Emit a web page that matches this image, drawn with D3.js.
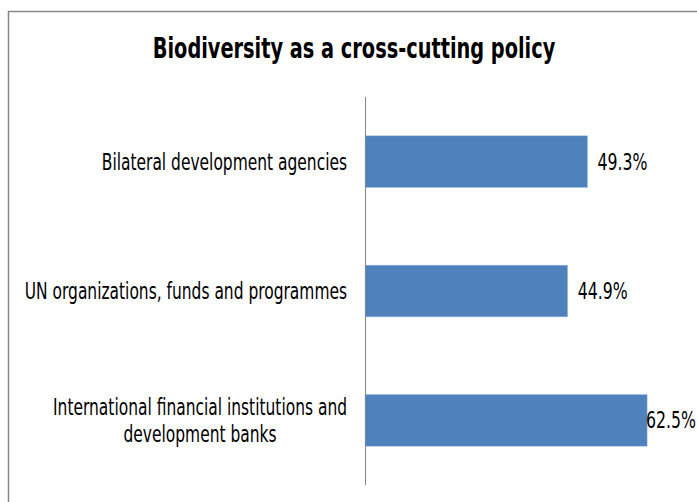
<!DOCTYPE html>
<html>
<head>
<meta charset="utf-8">
<script src="https://cdn.jsdelivr.net/npm/d3@7"></script>
<style>
  body { margin: 0; background: #fff; }
  svg { display: block; }
</style>
</head>
<body>
<svg id="chart"></svg>
<script>
var width = 697, height = 502;

// data
var categories = [
  ["Bilateral development agencies"],
  ["UN organizations, funds and programmes"],
  ["International financial institutions and", "development banks"]
];
var values = [49.3, 44.9, 62.5];
var title = "Biodiversity as a cross-cutting policy";

var font = "'DejaVu Sans Condensed', 'Liberation Sans Narrow', sans-serif";
var stretch = 1.3; // the original text is drawn tall and narrow

var svg = d3.select('#chart')
  .attr('width', width)
  .attr('height', height);

// chart border (runs off the right / bottom edge)
svg.append('rect')
  .attr('x', 8.5).attr('y', 11.5)
  .attr('width', 700).attr('height', 500)
  .attr('fill', 'none')
  .attr('stroke', '#868686')
  .attr('stroke-width', 1.5);

function tallText(sel, px, py) {
  // stretch vertically around the baseline point
  return sel.attr('transform', 'translate(' + px + ',' + py + ') scale(1,' + stretch + ')');
}

tallText(svg.append('text'), 354, 58)
  .attr('text-anchor', 'middle')
  .attr('font-family', font)
  .attr('font-weight', 'bold')
  .attr('font-size', 21.5)
  .attr('fill', '#000')
  .text(title);

var x = d3.scaleLinear().domain([0, 70]).range([365, 681]);
var y = d3.scaleBand()
  .domain(d3.range(values.length))
  .range([97, 485])
  .paddingInner(0.6)
  .paddingOuter(0.3);

svg.selectAll('rect.bar')
  .data(values)
  .enter()
  .append('rect')
  .attr('class', 'bar')
  .attr('x', x(0))
  .attr('y', function(d, i) { return y(i); })
  .attr('width', function(d) { return x(d) - x(0); })
  .attr('height', y.bandwidth())
  .attr('fill', '#4f81bd')
  .attr('stroke', '#a9c4e4')
  .attr('stroke-width', 0.5);

// vertical category axis line
svg.append('line')
  .attr('x1', x(0) + 0.5).attr('x2', x(0) + 0.5)
  .attr('y1', 97).attr('y2', 485)
  .attr('stroke', '#868686')
  .attr('stroke-width', 1);

// category labels, each block right-aligned, lines centred inside it
var labelRight = 347, lineH = 27;
categories.forEach(function(lines, i) {
  var cy = y(i) + y.bandwidth() / 2;
  var texts = lines.map(function(s, j) {
    return svg.append('text')
      .attr('text-anchor', 'middle')
      .attr('font-family', font)
      .attr('font-size', 17.2)
      .attr('fill', '#000')
      .text(s);
  });
  var w = d3.max(texts, function(t) { return t.node().getComputedTextLength(); });
  texts.forEach(function(t, j) {
    tallText(t, labelRight - w / 2, cy + 8 + (j - (lines.length - 1) / 2) * lineH);
  });
});

// value labels (kept inside the right edge)
svg.selectAll('text.val')
  .data(values)
  .enter()
  .append('text')
  .attr('class', 'val')
  .attr('font-family', font)
  .attr('font-size', 17.5)
  .attr('fill', '#000')
  .text(function(d) { return d.toFixed(1) + '%'; })
  .each(function(d, i) {
    var w = this.getComputedTextLength();
    tallText(d3.select(this), Math.min(x(d) + 10, 696 - w), y(i) + y.bandwidth() / 2 + 8);
  });
</script>
</body>
</html>
